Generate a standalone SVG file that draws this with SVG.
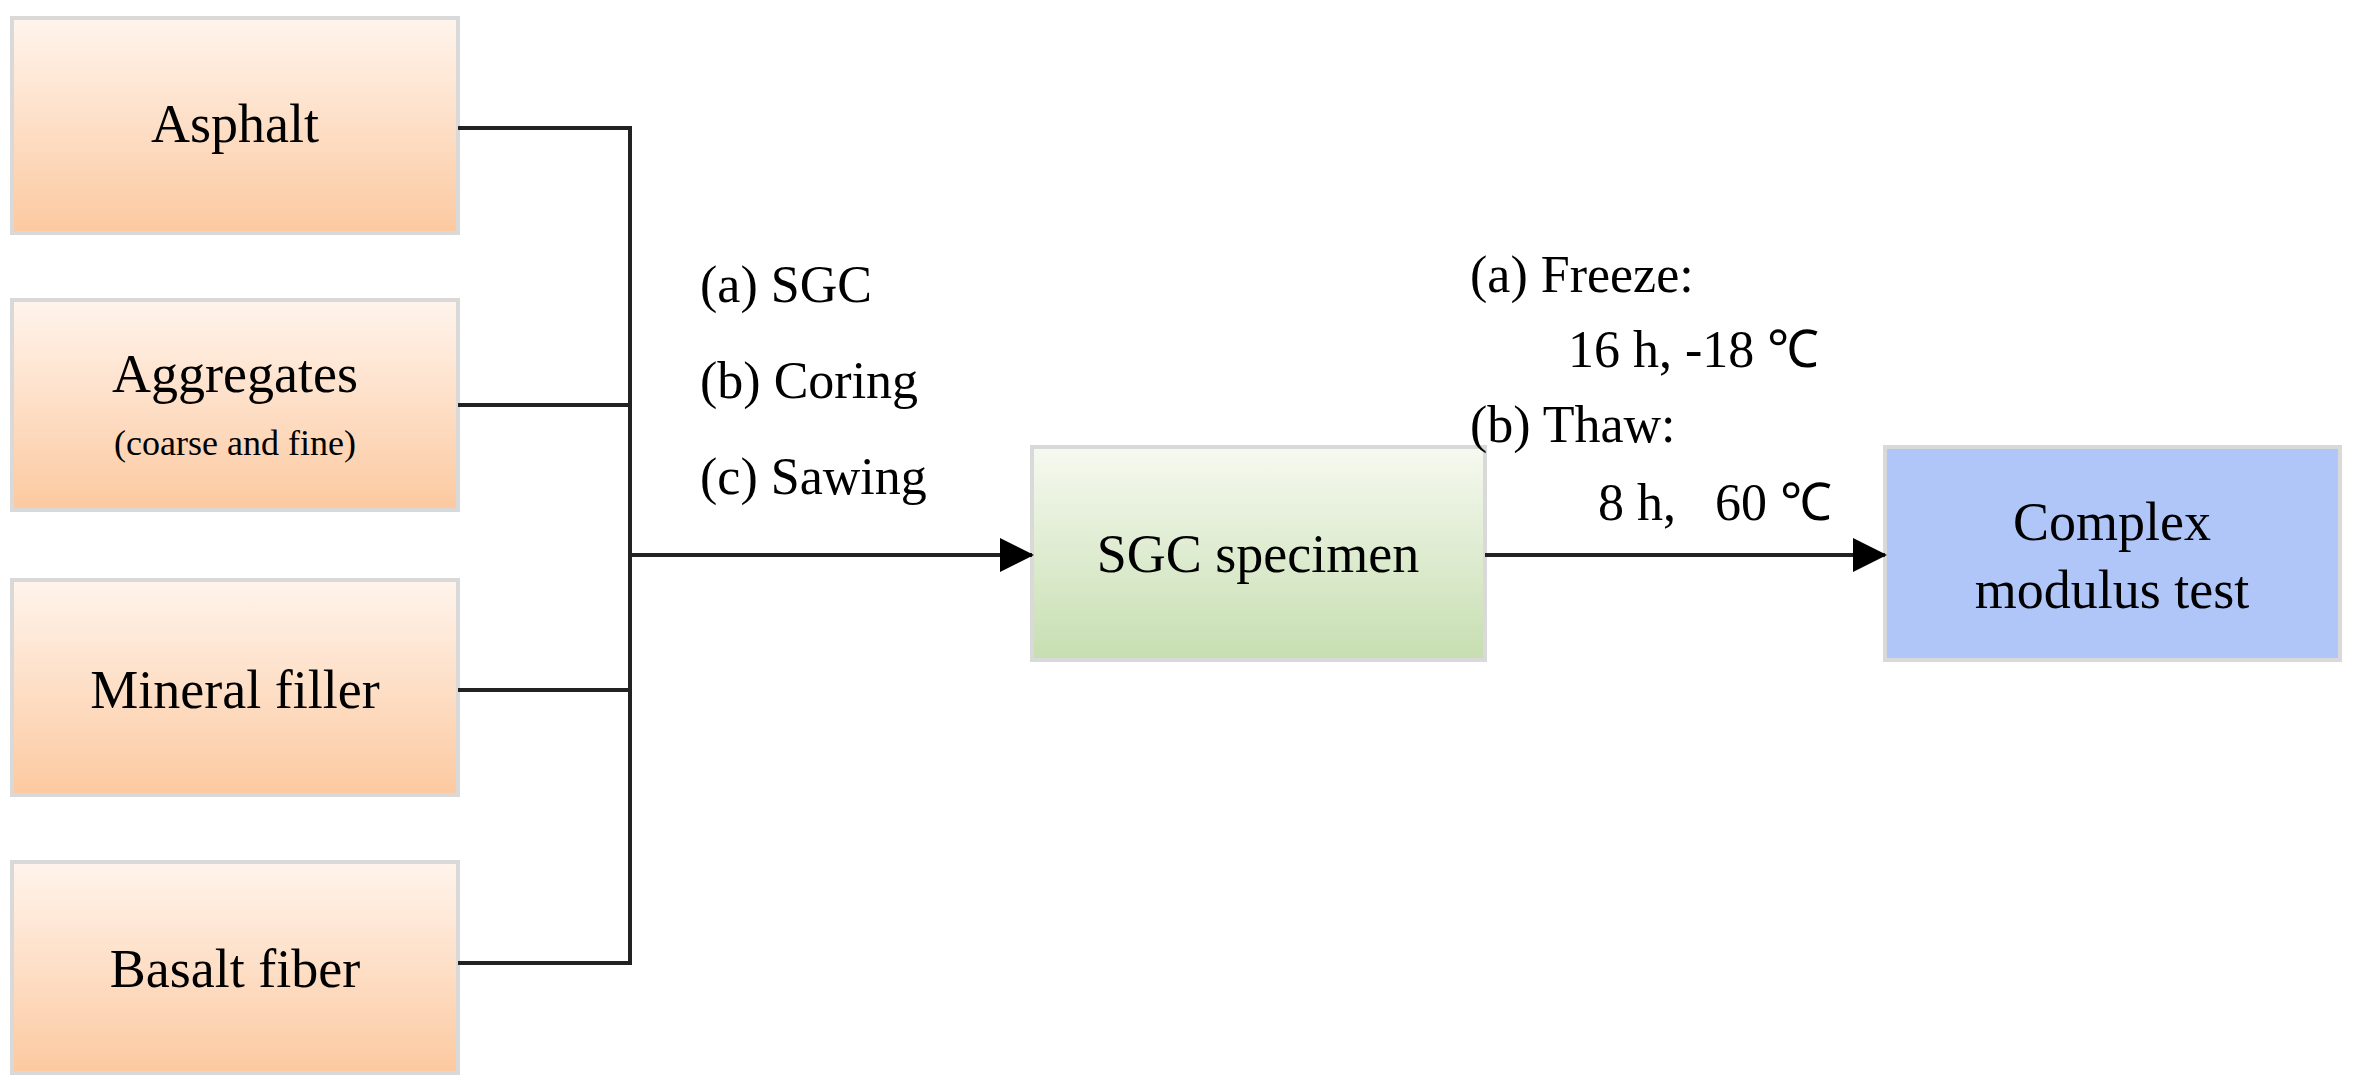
<svg xmlns="http://www.w3.org/2000/svg" width="2353" height="1091" viewBox="0 0 2353 1091">
<defs>
<linearGradient id="og" x1="0" y1="0" x2="0" y2="1"><stop offset="0" stop-color="#fff4ec"/><stop offset="1" stop-color="#fcc9a0"/></linearGradient>
<linearGradient id="gg" x1="0" y1="0" x2="0" y2="1"><stop offset="0" stop-color="#f6f9f0"/><stop offset="1" stop-color="#c6deb0"/></linearGradient>
<marker id="ar" markerWidth="34" markerHeight="34" refX="32" refY="17" orient="auto" markerUnits="userSpaceOnUse" viewBox="0 0 34 34"><path d="M0,0 L34,17 L0,34 z" fill="#000"/></marker>
</defs>
<style>
.box{stroke:#d9d9d9;stroke-width:4}
.t{font-family:"Liberation Serif",serif;font-size:54px;fill:#000}
.s{font-family:"Liberation Serif",serif;font-size:36px;fill:#000}
.l{font-family:"Liberation Serif",serif;font-size:52px;fill:#000}
.c{stroke:#222;stroke-width:4;fill:none}
</style>
<rect width="2353" height="1091" fill="#fff"/>
<g id="asphalt"><rect class="box" x="12" y="18" width="446" height="215" fill="url(#og)"/><text class="t" x="235" y="142" text-anchor="middle">Asphalt</text></g>
<g id="aggregates"><rect class="box" x="12" y="300" width="446" height="210" fill="url(#og)"/><text class="t" x="235" y="392" text-anchor="middle">Aggregates</text><text class="s" x="235" y="455" text-anchor="middle">(coarse and fine)</text></g>
<g id="mineral"><rect class="box" x="12" y="580" width="446" height="215" fill="url(#og)"/><text class="t" x="235" y="708" text-anchor="middle">Mineral filler</text></g>
<g id="basalt"><rect class="box" x="12" y="862" width="446" height="211" fill="url(#og)"/><text class="t" x="235" y="987" text-anchor="middle">Basalt fiber</text></g>
<g id="sgc"><rect class="box" x="1032" y="447" width="453" height="213" fill="url(#gg)"/><text class="t" x="1258" y="572" text-anchor="middle">SGC specimen</text></g>
<g id="complex"><rect class="box" x="1885" y="447" width="455" height="213" fill="#b0c6f8"/><text class="t" x="2112" y="540" text-anchor="middle">Complex</text><text class="t" x="2112" y="608" text-anchor="middle">modulus test</text></g>
<g id="connectors">
<path class="c" d="M458,128 H630 V963 H458 M458,405 H630 M458,690 H630"/>
<path class="c" d="M630,555 H1032" marker-end="url(#ar)"/>
<path class="c" d="M1485,555 H1885" marker-end="url(#ar)"/>
</g>
<g id="labels">
<text class="l" x="700" y="302">(a) SGC</text>
<text class="l" x="700" y="398">(b) Coring</text>
<text class="l" x="700" y="494">(c) Sawing</text>
<text class="l" x="1470" y="292">(a) Freeze:</text>
<text class="l" x="1568" y="367">16 h, -18 ℃</text>
<text class="l" x="1470" y="442">(b) Thaw:</text>
<text class="l" x="1598" y="520" xml:space="preserve">8 h,   60 ℃</text>
</g>
</svg>
